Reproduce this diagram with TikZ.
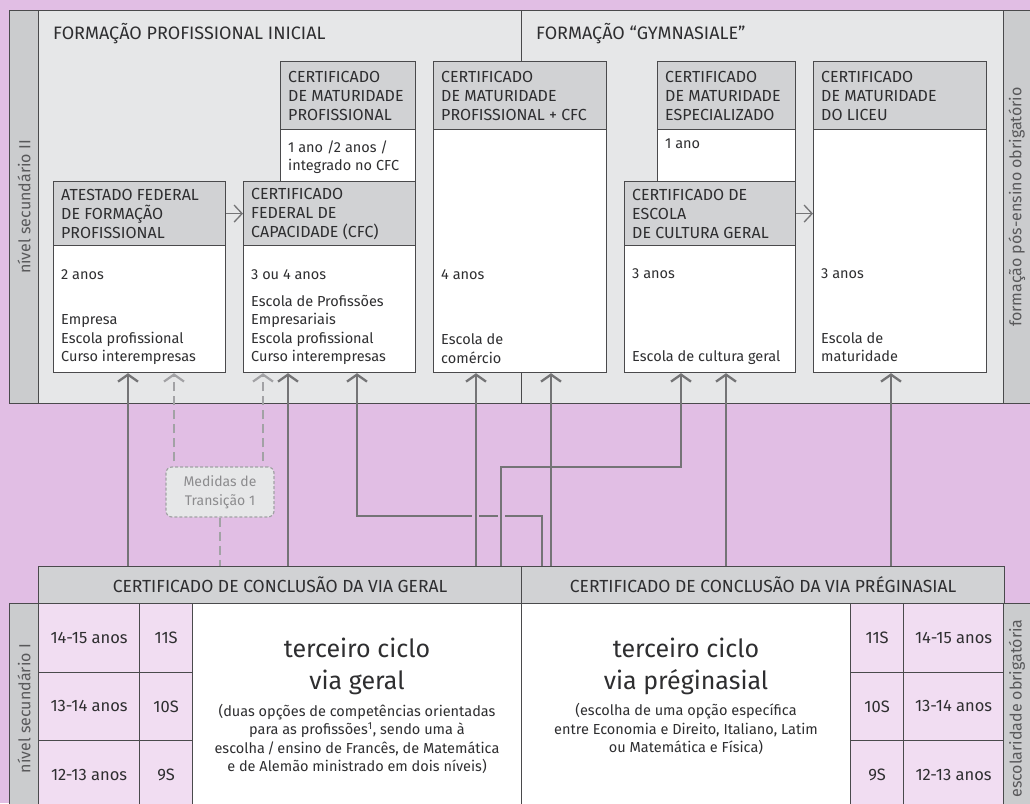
\documentclass[tikz,border=0pt]{standalone}
\usepackage{fontspec}
\setmainfont{Fira Sans}
\usetikzlibrary{arrows.meta,positioning}

\definecolor{bgpink}{HTML}{E1BEE4}
\definecolor{panelgray}{HTML}{E6E7E8}
\definecolor{hdrgray}{HTML}{D1D2D4}
\definecolor{sidegray}{HTML}{CBCCCE}
\definecolor{cellpink}{HTML}{F1DDF2}
\definecolor{edge}{HTML}{4A4A4C}
\definecolor{ink}{HTML}{2E2E30}
\definecolor{sideink}{HTML}{58585A}
\definecolor{linegray}{HTML}{747476}
\definecolor{dashgray}{HTML}{A2A2A5}
\definecolor{medink}{HTML}{8C8C8E}

\tikzset{
  box/.style={draw=edge, line width=1.2pt, anchor=north west, inner sep=0pt},
  hdr/.style={box, fill=hdrgray},
  bdy/.style={box, fill=white},
  cell/.style={box, fill=cellpink, text=ink, font=\fontsize{16.5}{19}\selectfont},
  sidebar/.style={box, fill=sidegray},
  sidelbl/.style={rotate=90, inner sep=0pt, text=sideink, font=\fontsize{16}{18}\selectfont},
  htxt/.style={anchor=west, xshift=8pt, align=left, inner sep=0pt, text=ink, font=\fontsize{16}{19}\selectfont},
  ytxt/.style={anchor=base west, inner sep=0pt, text=ink, font=\fontsize{14.5}{18.5}\selectfont},
  btxt/.style={anchor=south west, align=left, inner sep=0pt, text=ink, font=\fontsize{14.5}{18.5}\selectfont, execute at end node=\strut},
  title/.style={anchor=base west, inner sep=0pt, text=ink, font=\fontsize{18}{19}\selectfont},
  bartxt/.style={text=ink, font=\fontsize{17.5}{19}\selectfont},
  bigtxt/.style={anchor=south, align=center, inner sep=0pt, text=ink, font=\fontsize{25}{32}\selectfont, execute at end node=\strut},
  smalltxt/.style={anchor=south, align=center, inner sep=0pt, text=ink, font=\fontsize{14.5}{18.5}\selectfont, execute at end node=\strut},
  medidas/.style={draw=dashgray, fill=panelgray, line width=1.2pt, dash pattern=on 3pt off 2pt, rounded corners=6pt, align=center, inner sep=0pt, text=medink, font=\fontsize{14}{19}\selectfont},
  arr/.style={draw=linegray, line width=2.3pt, -{Straight Barb[length=7pt,width=20pt]}},
  harr/.style={draw=linegray, line width=1.3pt, -{Straight Barb[length=8pt,width=17pt]}},
  darr/.style={draw=dashgray, line width=2.2pt, dash pattern=on 9pt off 5pt, shorten <=5pt, -{Straight Barb[length=7pt,width=20pt]}},
  dline/.style={draw=dashgray, line width=2.2pt, dash pattern=on 9pt off 5pt},
  gap/.style={fill=bgpink},
}

\begin{document}
\begin{tikzpicture}[x=1pt, y=-1pt]
  \useasboundingbox (0,0) rectangle (1030,803);
  \fill[bgpink] (0,0) rectangle (1030,803);

  % painel superior
  \node[sidebar, minimum width=29, minimum height=393] (lvlTwo) at (9,10) {};
  \node[box, fill=panelgray, minimum width=965, minimum height=393] (panelTop) at (38,10) {};
  \node[sidebar, minimum width=30, minimum height=393] (postObl) at (1003,10) {};
  \node[sidelbl] (lvlTwoT) at (lvlTwo) {nível secundário II};
  \node[sidelbl] (postOblT) at (postObl.center -| 1017,0) {formação pós-ensino obrigatório};
  \draw[edge, line width=1pt] (panelTop.north -| 521,0) -- (panelTop.south -| 521,0);
  \node[title] (tProf) at (53,39) {FORMAÇÃO PROFISSIONAL INICIAL};
  \node[title] (tGym) at (536,39) {FORMAÇÃO “GYMNASIALE”};

  % caixas
  \node[bdy, minimum width=135, minimum height=52] (mpB) at (280,129) {};
  \node[hdr, minimum width=135, minimum height=68] (mpH) at (280,61) {};
  \node[htxt] (mpHt) at (mpH.west) {CERTIFICADO\\DE MATURIDADE\\PROFISSIONAL};
  \node[btxt] (mpBt) at ([xshift=8pt,yshift=5.5pt]mpB.south west) {1 ano /2 anos /\\integrado no CFC};

  \node[hdr, minimum width=172, minimum height=64] (atH) at (53,181) {};
  \node[bdy, minimum width=172, minimum height=127] (atB) at (53,245) {};
  \node[htxt] (atHt) at (atH.west) {ATESTADO FEDERAL\\DE FORMAÇÃO\\PROFISSIONAL};
  \node[ytxt] (atY) at ([xshift=8pt,yshift=-34pt]atB.north west) {2 anos};
  \node[btxt] (atBt) at ([xshift=8pt,yshift=5.5pt]atB.south west) {Empresa\\Escola profissional\\Curso interempresas};

  \node[hdr, minimum width=172, minimum height=64] (cfcH) at (243,181) {};
  \node[bdy, minimum width=172, minimum height=127] (cfcB) at (243,245) {};
  \node[htxt] (cfcHt) at (cfcH.west) {CERTIFICADO\\FEDERAL DE\\CAPACIDADE (CFC)};
  \node[ytxt] (cfcY) at ([xshift=8pt,yshift=-34pt]cfcB.north west) {3 ou 4 anos};
  \node[btxt] (cfcBt) at ([xshift=8pt,yshift=5.5pt]cfcB.south west) {Escola de Profissões\\Empresariais\\Escola profissional\\Curso interempresas};

  \node[hdr, minimum width=173, minimum height=68] (pcH) at (433,61) {};
  \node[bdy, minimum width=173, minimum height=243] (pcB) at (433,129) {};
  \node[htxt] (pcHt) at (pcH.west) {CERTIFICADO\\DE MATURIDADE\\PROFISSIONAL + CFC};
  \node[ytxt] (pcY) at ([xshift=8pt,yshift=-150pt]pcB.north west) {4 anos};
  \node[btxt] (pcBt) at ([xshift=8pt,yshift=4pt]pcB.south west) {Escola de\\comércio};

  \node[bdy, minimum width=138, minimum height=52] (meB) at (657,129) {};
  \node[hdr, minimum width=138, minimum height=68] (meH) at (657,61) {};
  \node[htxt] (meHt) at (meH.west) {CERTIFICADO\\DE MATURIDADE\\ESPECIALIZADO};
  \node[ytxt] (meY) at ([xshift=8pt,yshift=-19pt]meB.north west) {1 ano};

  \node[hdr, minimum width=171, minimum height=64] (cgH) at (624,181) {};
  \node[bdy, minimum width=171, minimum height=127] (cgB) at (624,245) {};
  \node[htxt] (cgHt) at (cgH.west) {CERTIFICADO DE\\ESCOLA\\DE CULTURA GERAL};
  \node[ytxt] (cgY) at ([xshift=8pt,yshift=-33pt]cgB.north west) {3 anos};
  \node[btxt] (cgBt) at ([xshift=8pt,yshift=5.5pt]cgB.south west) {Escola de cultura geral};

  \node[hdr, minimum width=173, minimum height=68] (liH) at (813,61) {};
  \node[bdy, minimum width=173, minimum height=243] (liB) at (813,129) {};
  \node[htxt] (liHt) at (liH.west) {CERTIFICADO\\DE MATURIDADE\\DO LICEU};
  \node[ytxt] (liY) at ([xshift=8pt,yshift=-149pt]liB.north west) {3 anos};
  \node[btxt] (liBt) at ([xshift=8pt,yshift=5.5pt]liB.south west) {Escola de\\maturidade};

  \draw[harr] (atH.east) -- (cfcH.west);
  \draw[harr] (cgH.east) -- (cgH.east -| liB.west);

  % painel inferior
  \node[hdr, minimum width=483, minimum height=37] (geral) at (38,566) {};
  \node[hdr, minimum width=483, minimum height=37] (pregin) at (521,566) {};
  \node[bartxt] (geralT) at (geral) {CERTIFICADO DE CONCLUSÃO DA VIA GERAL};
  \node[bartxt] (preginT) at (pregin) {CERTIFICADO DE CONCLUSÃO DA VIA PRÉGINASIAL};

  \node[sidebar, minimum width=29, minimum height=210] (lvlOne) at (9,603) {};
  \node[sidebar, minimum width=30, minimum height=210] (oblig) at (1003,603) {};
  \node[sidelbl] (lvlOneT) at (lvlOne) {nível secundário I};
  \node[sidelbl] (obligT) at (oblig.center -| 1017,0) {escolaridade obrigatória};

  \foreach \r/\age/\sem in {0/14-15/11S, 1/13-14/10S, 2/12-13/9S} {
    \node[cell, minimum width=101, minimum height=68.5] (ageL\r) at (38,603+68.5*\r) {\age\ anos};
    \node[cell, minimum width=53, minimum height=68.5] (semL\r) at (139,603+68.5*\r) {\sem};
    \node[cell, minimum width=53, minimum height=68.5] (semR\r) at (850,603+68.5*\r) {\sem};
    \node[cell, minimum width=100, minimum height=68.5] (ageR\r) at (903,603+68.5*\r) {\age\ anos};
  }

  \node[bdy, minimum width=329, minimum height=210] (viaG) at (192,603) {};
  \node[bdy, minimum width=329, minimum height=210] (viaP) at (521,603) {};
  \node[bigtxt] (viaGt) at (357,699.6) {terceiro ciclo\\via geral};
  \node[smalltxt] (viaGd) at (357,777.5) {(duas opções de competências orientadas\\para as profissões\textsuperscript{1}, sendo uma à\\escolha\,/\,ensino de Francês, de Matemática\\e de Alemão ministrado em dois níveis)};
  \node[bigtxt] (viaPt) at (686,699.6) {terceiro ciclo\\via préginasial};
  \node[smalltxt] (viaPd) at (686,758.5) {(escolha de uma opção específica\\entre Economia e Direito, Italiano, Latim\\ou Matemática e Física)};

  % medidas de transição
  \node[medidas, minimum width=108, minimum height=50] (med) at (220,492) {Medidas de\\Transição 1};
  \draw[darr] (med.north -| 174,0) -- (atB.south -| 174,0);
  \draw[darr] (med.north -| 263,0) -- (cfcB.south -| 263,0);
  \draw[dline] (med.south) -- (geral.north -| med.south);

  % ligações
  \draw[arr] (geral.north -| 128,0) -- (atB.south -| 128,0);
  \draw[arr] (geral.north -| 288,0) -- (cfcB.south -| 288,0);
  \draw[arr] (pregin.north -| 542,0) |- (357,516) -- (cfcB.south -| 357,0);
  \fill[gap] (472,512) rectangle (479,520);
  \fill[gap] (498,512) rectangle (505,520);
  \draw[arr] (geral.north -| 476,0) -- (pcB.south -| 476,0);
  \draw[arr] (geral.north -| 501,0) |- (681,467) -- (cgB.south -| 681,0);
  \draw[arr] (pregin.north -| 551,0) -- (pcB.south -| 551,0);
  \draw[arr] (pregin.north -| 726,0) -- (cgB.south -| 726,0);
  \draw[arr] (pregin.north -| 891,0) -- (liB.south -| 891,0);
\end{tikzpicture}
\end{document}
